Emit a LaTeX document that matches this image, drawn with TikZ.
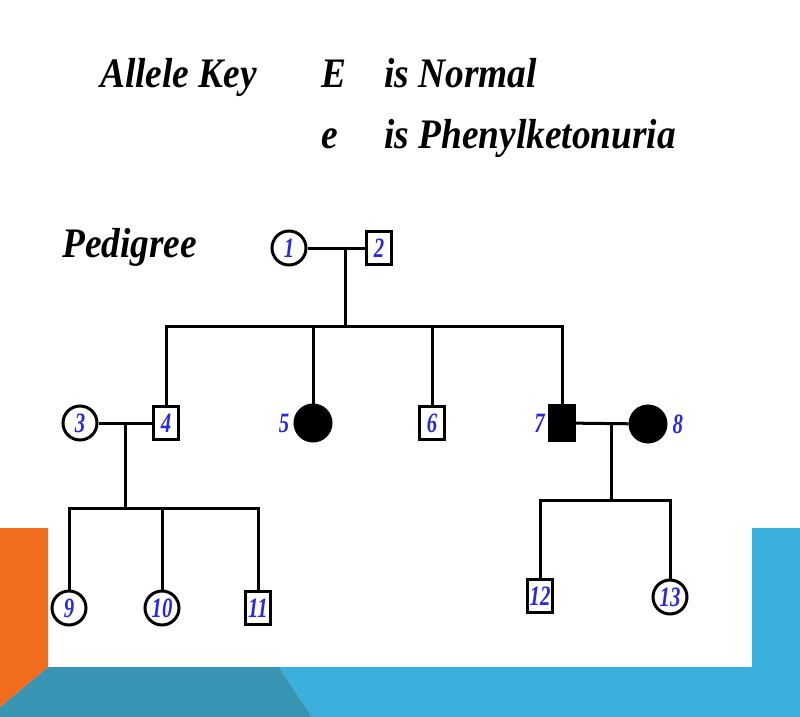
\documentclass[tikz,border=0pt]{standalone}
\usepackage{fontspec}
\setmainfont{Liberation Serif}
\definecolor{numblue}{RGB}{40,40,225}
\definecolor{slideorange}{RGB}{242,108,30}
\definecolor{slideteal}{RGB}{58,148,180}
\definecolor{slideblue}{RGB}{59,176,221}
\newcommand{\head}[1]{\scalebox{0.89}[1]{\fontsize{42}{48}\selectfont\bfseries\itshape #1}}
\newcommand{\pn}[1]{\scalebox{0.74}[1]{\fontsize{28}{30}\selectfont\bfseries\itshape #1}}

\begin{document}
\begin{tikzpicture}[
        x=1pt, y=-1pt,
        pline/.style={line width=3pt},
        female/.style={circle, draw, line width=3pt, minimum size=34pt, inner sep=0pt, text=numblue},
        male/.style={rectangle, draw, line width=3pt, minimum width=25pt, minimum height=33pt, inner sep=0pt, text=numblue},
        affected/.style={fill=black},
        every label/.style={text=numblue, inner sep=0pt},
        heading/.style={anchor=base west, inner sep=0pt}
    ]

    % Slide background
    \useasboundingbox (0,0) rectangle (800,717);
    \fill[slideblue] (752,528) rectangle (800,717);
    \fill[slideblue] (279,667) -- (800,667) -- (800,717) -- (312,717) -- cycle;
    \fill[slideteal] (0,707) -- (48,667) -- (279,667) -- (312,717) -- (0,717) -- cycle;
    \fill[slideorange] (0,528) -- (48,528) -- (48,667) -- (0,707) -- cycle;

    % Key
    \node[heading] (key) at (100,87) {\head{Allele Key}};
    \node[heading] (bigE) at (321,87) {\head{E}};
    \node[heading] (normal) at (384,87) {\head{is Normal}};
    \node[heading] (smalle) at (321,148) {\head{e}};
    \node[heading] (pku) at (384,148) {\head{is Phenylketonuria}};
    \node[heading] (ped) at (62,257) {\head{Pedigree}};

    % Generation I
    \node[female] (p1) at (289,248) {\pn{1}};
    \node[male] (p2) at (379,248) {\pn{2}};
    \coordinate (m12) at (345,248);
    \coordinate (s12) at (345,326);
    \draw[pline] (p1) -- (p2);
    \draw[pline] (m12) -- (s12);

    % Generation II
    \node[female] (p3) at (80,423) {\pn{3}};
    \node[male] (p4) at (166,423) {\pn{4}};
    \node[female, affected, minimum size=36pt, label={[label distance=4pt]left:\pn{5}}] (p5) at (313,423) {};
    \node[male] (p6) at (432,423) {\pn{6}};
    \node[male, affected, minimum height=35pt, label={[label distance=3pt]left:\pn{7}}] (p7) at (562,423) {};
    \node[female, affected, minimum size=36pt, label={[label distance=5pt]right:\pn{8}}] (p8) at (648,424) {};

    \foreach \c in {p4,p5,p6,p7}
        \draw[pline] (s12) -| (\c);

    \coordinate (m34) at (125,423);
    \coordinate (s34) at (125,508);
    \draw[pline] (p3) -- (p4);
    \draw[pline] (m34) -- (s34);

    \coordinate (m78) at (611,424);
    \coordinate (s78) at (611,500);
    \draw[pline] (p7) -- (p8);
    \draw[pline] (m78) -- (s78);

    % Generation III
    \node[female] (p9) at (69,608) {\pn{9}};
    \node[female] (p10) at (162,608) {\pn{10}};
    \node[male] (p11) at (258,608) {\pn{11}};
    \node[male] (p12) at (540,596) {\pn{12}};
    \node[female] (p13) at (670,597) {\pn{13}};

    \foreach \c in {p9,p10,p11}
        \draw[pline] (s34) -| (\c);
    \foreach \c in {p12,p13}
        \draw[pline] (s78) -| (\c);

\end{tikzpicture}
\end{document}
